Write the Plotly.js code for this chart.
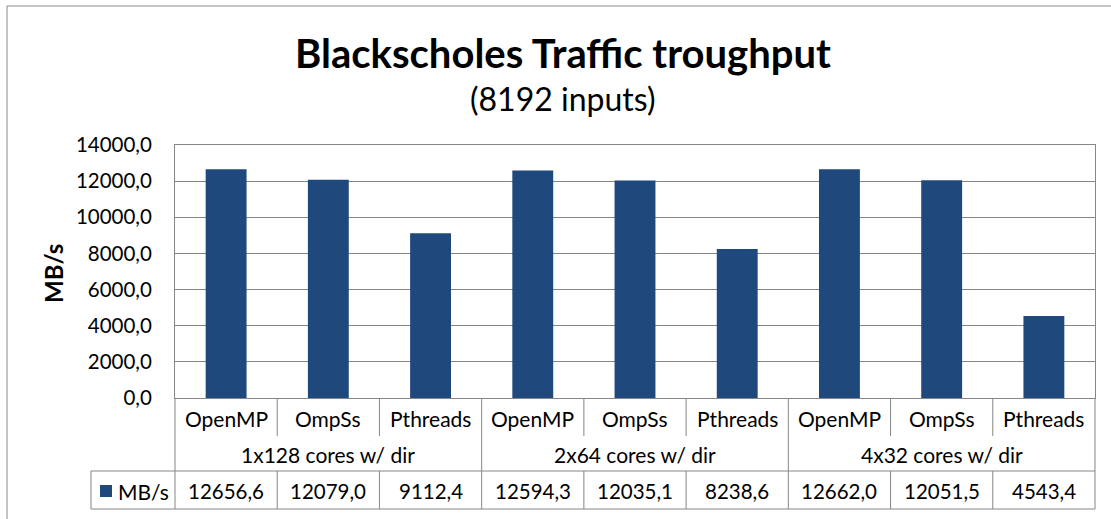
<!DOCTYPE html>
<html><head><meta charset="utf-8">
<script src="https://cdn.plot.ly/plotly-3.0.1.min.js"></script>
<style>html,body{margin:0;padding:0;background:#fff;}</style>
</head><body><div id="chart" style="width:1111px;height:519px;"></div>
<script>
// ---- data ----
const categories = ['OpenMP','OmpSs','Pthreads','OpenMP','OmpSs','Pthreads','OpenMP','OmpSs','Pthreads'];
const groups = ['1x128 cores w/ dir','2x64 cores w/ dir','4x32 cores w/ dir'];
const seriesName = 'MB/s';
const values = [12656.6, 12079.0, 9112.4, 12594.3, 12035.1, 8238.6, 12662.0, 12051.5, 4543.4];
const yTickValues = [0, 2000, 4000, 6000, 8000, 10000, 12000, 14000];
const chartTitle = 'Blackscholes Traffic troughput';
const chartSubtitle = '(8192 inputs)';
const yTitle = 'MB/s';

// ---- geometry / style ----
const W = 1111, H = 519, L = 175, R = 1095, T = 145, B = 398;
const px2x = p => (p - L) / (R - L);
const py2y = p => (B - p) / (B - T);
const barColor = '#1F497D';
const lineColor = '#868686';
const FONT = 'Lato, "Open Sans", sans-serif';
const fmt = v => v.toFixed(1).replace('.', ',');

const xs = categories.map((c, i) => i);

const shapes = [];
const seg = (x0, y0, x1, y1) => shapes.push({type:'line', xref:'paper', yref:'paper',
  x0, y0, x1, y1, line:{color:lineColor, width:1}});
// outer chart border
shapes.push({type:'rect', xref:'paper', yref:'paper', x0:px2x(7), y0:py2y(6), x1:px2x(1130), y1:py2y(540),
  line:{color:'#8c8c8c', width:1}, fillcolor:'rgba(0,0,0,0)'});
// data table grid
const n = categories.length;
seg(px2x(91), py2y(471), 1, py2y(471));
seg(px2x(91), py2y(509), 1, py2y(509));
seg(px2x(91), py2y(471), px2x(91), py2y(509));
for (let k = 0; k <= n; k++) {
  const xp = k / n;
  if (k % 3 === 0) {
    seg(xp, 0, xp, py2y(509));
  } else {
    seg(xp, 0, xp, py2y(436));
    seg(xp, py2y(471), xp, py2y(509));
  }
}
// legend key
shapes.push({type:'rect', xref:'paper', yref:'paper', x0:px2x(100), x1:px2x(112), y0:py2y(485), y1:py2y(497),
  fillcolor:barColor, line:{width:0}});

const annotations = [];
const tfont = {family:FONT, size:21, color:'#000'};
const nfont = {family:FONT, size:20.5, color:'#000'};
categories.forEach((c, i) => annotations.push({xref:'x', yref:'paper', x:i, y:py2y(418),
  text:c, showarrow:false, font:tfont, xanchor:'center', yanchor:'middle'}));
groups.forEach((g, gi) => annotations.push({xref:'x', yref:'paper', x:gi*3+1, y:py2y(454),
  text:g, showarrow:false, font:tfont, xanchor:'center', yanchor:'middle'}));
values.forEach((v, i) => annotations.push({xref:'x', yref:'paper', x:i, y:py2y(491),
  text:fmt(v), showarrow:false, font:nfont, xanchor:'center', yanchor:'middle'}));
annotations.push({xref:'paper', yref:'paper', x:px2x(116), y:py2y(491), text:seriesName,
  showarrow:false, font:tfont, xanchor:'left', yanchor:'middle'});
annotations.push({xref:'paper', yref:'paper', x:px2x(53), y:py2y(273), text:yTitle, textangle:-90,
  showarrow:false, font:{family:FONT, size:24, color:'#000', weight:'bold'}, xanchor:'center', yanchor:'middle'});
annotations.push({xref:'paper', yref:'paper', x:px2x(562), y:py2y(99), text:chartSubtitle,
  showarrow:false, font:{family:FONT, size:32, color:'#000'}, xanchor:'center', yanchor:'middle'});

const trace = {type:'bar', x:xs, y:values, name:seriesName, width:0.4,
  marker:{color:barColor, line:{width:0}}, hoverinfo:'skip'};

const layout = {
  width:W, height:H,
  margin:{l:L, r:W-R, t:T, b:H-B, pad:0},
  paper_bgcolor:'#fff', plot_bgcolor:'#fff',
  separators:',.',
  showlegend:false,
  title:{text:chartTitle, font:{family:FONT, size:40, color:'#000', weight:'bold'},
    xref:'container', yref:'container', x:563/W, y:1-54/H, xanchor:'center', yanchor:'middle'},
  xaxis:{type:'linear', range:[-0.5, n-0.5], showticklabels:false, showgrid:false, zeroline:false,
    showline:true, mirror:true, linecolor:lineColor, linewidth:1, ticks:'', fixedrange:true},
  yaxis:{range:[0, 14000], tickvals:yTickValues, tickformat:'.1f', showgrid:true, gridcolor:lineColor,
    gridwidth:1, zeroline:false, showline:true, mirror:true, linecolor:lineColor, linewidth:1,
    ticks:'', ticklabelstandoff:18, tickfont:{family:FONT, size:20.5, color:'#000'}, fixedrange:true},
  shapes, annotations
};
Plotly.newPlot('chart', [trace], layout, {displayModeBar:false, staticPlot:true});
</script></body></html>
